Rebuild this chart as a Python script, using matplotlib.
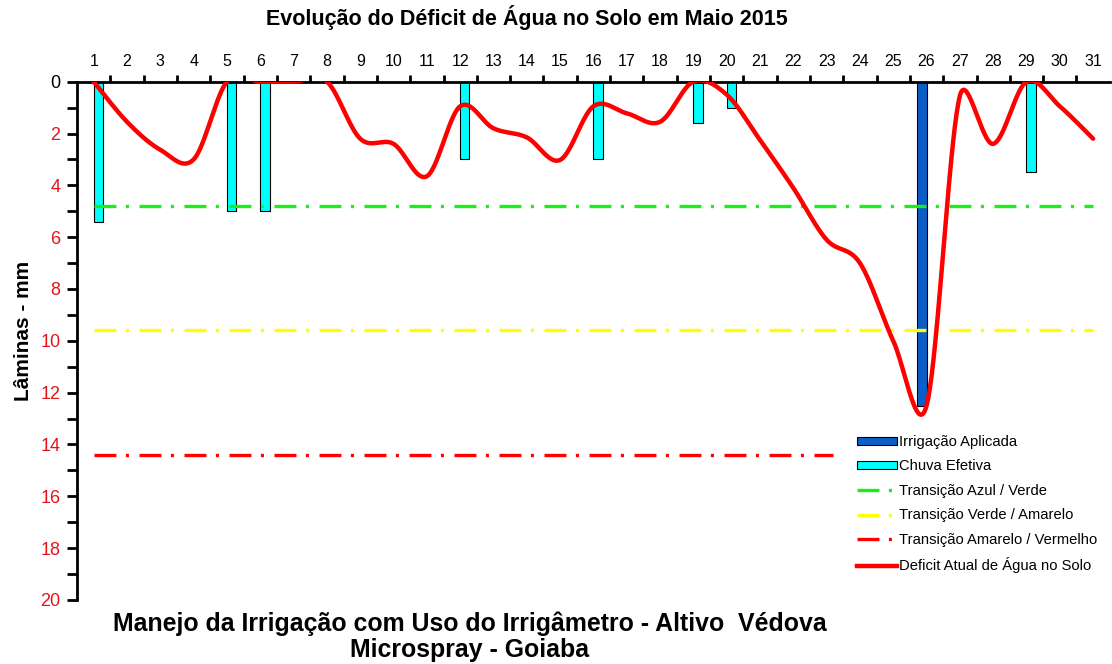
import numpy as np
import matplotlib
matplotlib.use("Agg")
import matplotlib.pyplot as plt
from matplotlib.patches import Patch
from matplotlib.lines import Line2D

plt.rcParams['font.family'] = ['Liberation Sans', 'DejaVu Sans']
plt.rcParams['lines.scale_dashes'] = False

# dados do mês (maio 2015)
dias = list(range(1, 32))
deficit = [0, 1.55, 2.63, 3.0, 0, 0, 0, 0, 2.2, 2.4, 3.65, 0.95, 1.8, 2.15, 3.02,
           0.95, 1.22, 1.55, 0, 0.5, 2.25, 4.1, 6.1, 7.0, 10.0, 12.5, 0.55, 2.4,
           0, 0.95, 2.2]
chuva_dias = [1, 5, 6, 12, 16, 19, 20, 29]
chuva_mm = [5.4, 5.0, 5.0, 3.0, 3.0, 1.6, 1.0, 3.5]
irrig_dias = [26]
irrig_mm = [12.5]
transicoes = [4.8, 9.6, 14.4]
transicoes_fim = [31, 31, 23.2]


def suaviza(xs, ys, sx=33.3, sy=26.0, n=40):
    # curva de Bezier tipo "linha suavizada" do Excel
    P = np.column_stack([np.asarray(xs, float) * sx, np.asarray(ys, float) * sy])
    pts = []
    for i in range(len(P) - 1):
        p0 = P[max(i - 1, 0)]
        p1, p2 = P[i], P[i + 1]
        p3 = P[min(i + 2, len(P) - 1)]
        meio = np.linalg.norm(p2 - p1) / 2
        t1 = (p2 - p0) / 6
        t2 = (p3 - p1) / 6
        if np.linalg.norm(t1) > meio:
            t1 = t1 * meio / np.linalg.norm(t1)
        if np.linalg.norm(t2) > meio:
            t2 = t2 * meio / np.linalg.norm(t2)
        c1, c2 = p1 + t1, p2 - t2
        t = np.linspace(0, 1, n)[:, None]
        seg = (1 - t)**3 * p1 + 3 * (1 - t)**2 * t * c1 + 3 * (1 - t) * t**2 * c2 + t**3 * p2
        pts.append(seg if i == 0 else seg[1:])
    pts = np.vstack(pts)
    return pts[:, 0] / sx, pts[:, 1] / sy


fig = plt.figure(figsize=(11.12, 6.64), dpi=100)
ax = fig.add_axes([0.0693, 0.0964, 0.9287, 0.7806])

larg = 0.28
ax.bar(np.array(irrig_dias) - larg / 2, irrig_mm, width=larg, color='#0b5ec6',
       edgecolor='black', linewidth=0.8, zorder=2)
ax.bar(np.array(chuva_dias) + larg / 2, chuva_mm, width=larg, color='#00ffff',
       edgecolor='black', linewidth=0.8, zorder=2)

traco = (0, (15.8, 6.8, 2.2, 7.6))
cores_tr = ['#19f019', '#ffff00', '#ff0000']
for v, fim, c in zip(transicoes, transicoes_fim, cores_tr):
    ax.plot([1, fim], [v, v], color=c, lw=2.4, linestyle=traco,
            dash_capstyle='butt', zorder=3)

xs, ys = suaviza(dias, deficit)
ax.plot(xs, ys, color='#ff0000', lw=3.2, zorder=4, solid_capstyle='round')

ax.set_xlim(0.5, 31.5)
ax.set_ylim(20, 0)

for s in ['bottom', 'right']:
    ax.spines[s].set_visible(False)
for s in ['top', 'left']:
    ax.spines[s].set_linewidth(2.0)

ax.xaxis.tick_top()
ax.set_xticks(dias)
ax.set_xticks(np.arange(1.5, 31, 1), minor=True)
ax.tick_params(axis='x', which='major', length=0, pad=9, labelsize=11.5)
ax.tick_params(axis='x', which='minor', length=5, width=2.0, direction='out')

ax.set_yticks(range(0, 21, 2))
ax.set_yticks(range(1, 20, 2), minor=True)
ax.tick_params(axis='y', which='both', length=7, width=2.0, direction='out', pad=5,
               labelsize=13)
for i, lab in enumerate(ax.get_yticklabels()):
    lab.set_color('black' if i == 0 else '#e3151b')

fig.text(0.474, 0.973, 'Evolução do Déficit de Água no Solo em Maio 2015',
         ha='center', va='center', fontsize=15.5, fontweight='bold')
fig.text(0.021, 0.5015, 'Lâminas - mm', rotation=90, ha='center', va='center',
         fontsize=15, fontweight='bold')
fig.text(0.4227, 0.060, 'Manejo da Irrigação com Uso do Irrigâmetro - Altivo  Védova',
         ha='center', va='center', fontsize=17.9, fontweight='bold')
fig.text(0.4227, 0.021, 'Microspray - Goiaba', ha='center', va='center',
         fontsize=17.9, fontweight='bold')

handles = [
    Patch(facecolor='#0b5ec6', edgecolor='black', linewidth=0.8),
    Patch(facecolor='#00ffff', edgecolor='black', linewidth=0.8),
    Line2D([], [], color=cores_tr[0], lw=2.4, linestyle=traco),
    Line2D([], [], color=cores_tr[1], lw=2.4, linestyle=traco),
    Line2D([], [], color=cores_tr[2], lw=2.4, linestyle=traco),
    Line2D([], [], color='#ff0000', lw=3.2),
]
labels = ['Irrigação Aplicada', 'Chuva Efetiva', 'Transição Azul / Verde',
          'Transição Verde / Amarelo', 'Transição Amarelo / Vermelho',
          'Deficit Atual de Água no Solo']
fig.legend(handles, labels, loc='upper left', bbox_to_anchor=(857 / 1112, 1 - 435 / 664),
           frameon=False, fontsize=10.6, handlelength=2.75, handleheight=0.45,
           handletextpad=0.1, labelspacing=0.71, borderpad=0, borderaxespad=0)

fig.savefig('out.png', dpi=100)
